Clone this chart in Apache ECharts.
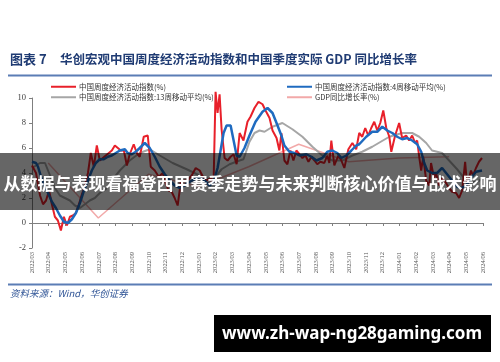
<!DOCTYPE html>
<html><head><meta charset="utf-8">
<script src="https://cdn.jsdelivr.net/npm/echarts@6/dist/echarts.min.js"></script>
<style>html,body{margin:0;padding:0;background:#fff}#c{width:500px;height:362px}</style>
</head><body><div id="c"></div>
<script>
const monthLabels = ['2022/03','2022/04','2022/05','2022/06','2022/07','2022/08','2022/09','2022/10','2022/11','2022/12','2023/01','2023/02','2023/03','2023/04','2023/05','2023/06','2023/07','2023/08','2023/09','2023/10','2023/11','2023/12','2024/01','2024/02','2024/03','2024/04','2024/05','2024/06'];
const yTicks = [-2, 0, 2, 4, 6, 8, 10];
const seriesNames = ['中国周度经济活动指数(%)','中国周度经济活动指数:13周移动平均(%)','中国周度经济活动指数:4周移动平均(%)','GDP同比增长率(%)'];
// [month index since 2022/03, value]
const weeklyIndex = [[0.00,4.6],[0.24,4.0],[0.48,2.2],[0.66,1.5],[0.84,1.8],[1.02,2.6],[1.19,1.5],[1.37,0.5],[1.55,0.2],[1.73,-0.6],[1.91,0.5],[2.09,-0.2],[2.27,0.5],[2.45,0.6],[2.63,0.8],[2.81,1.5],[2.99,2.3],[3.17,3.0],[3.35,4.0],[3.52,5.6],[3.70,4.5],[3.88,6.2],[4.06,5.0],[4.24,5.2],[4.42,5.4],[4.60,5.6],[4.78,5.8],[4.96,6.2],[5.14,6.0],[5.32,5.8],[5.50,5.8],[5.68,4.6],[5.85,5.5],[6.09,6.3],[6.27,5.6],[6.45,5.3],[6.69,6.9],[6.93,7.0],[7.11,4.5],[7.35,4.2],[7.59,3.7],[7.83,4.0],[8.00,3.2],[8.18,2.6],[8.36,2.5],[8.54,2.0],[8.72,1.4],[8.90,3.2],[9.08,3.4],[9.32,3.4],[9.56,3.8],[9.80,4.4],[10.04,4.2],[10.27,3.6],[10.45,3.4],[10.69,3.6],[10.87,3.2],[10.99,10.5],[11.11,8.8],[11.23,10.3],[11.35,7.5],[11.53,5.2],[11.71,5.0],[11.89,5.3],[12.07,5.5],[12.25,4.7],[12.43,7.2],[12.66,6.6],[12.90,8.1],[13.08,8.5],[13.32,9.2],[13.56,9.7],[13.80,9.5],[13.98,9.0],[14.22,8.4],[14.40,7.4],[14.64,6.8],[14.81,5.8],[14.93,7.2],[15.11,5.0],[15.29,4.7],[15.47,5.8],[15.65,5.0],[15.83,5.8],[16.01,5.5],[16.19,5.2],[16.37,5.4],[16.55,4.9],[16.73,5.3],[16.91,5.0],[17.08,4.7],[17.26,4.9],[17.50,4.8],[17.68,5.4],[17.80,4.8],[17.92,6.6],[18.10,4.6],[18.34,5.4],[18.52,5.0],[18.70,4.4],[18.94,5.9],[19.18,6.4],[19.41,5.9],[19.59,7.2],[19.77,6.9],[19.95,7.6],[20.13,7.0],[20.31,7.6],[20.49,8.1],[20.67,7.4],[20.85,8.0],[21.03,9.0],[21.21,7.6],[21.39,6.9],[21.51,5.7],[21.74,7.0],[21.98,8.0],[22.16,6.8],[22.40,7.0],[22.58,6.6],[22.76,7.0],[22.94,6.4],[23.06,6.6],[23.18,5.3],[23.30,4.2],[23.42,5.3],[23.60,3.4],[23.78,3.0],[23.89,4.8],[24.07,3.6],[24.19,4.0],[24.37,3.0],[24.55,3.6],[24.79,3.2],[24.97,2.8],[25.15,2.5],[25.39,2.4],[25.57,2.0],[25.75,2.6],[25.93,4.9],[26.05,3.0],[26.28,4.2],[26.40,3.8],[26.58,4.4],[26.76,4.9],[26.94,5.2]];
const ma4 = [[0.00,4.9],[0.24,4.8],[0.36,4.5],[0.54,3.7],[0.72,3.0],[0.96,2.4],[1.19,1.7],[1.43,1.2],[1.67,0.6],[1.91,0.1],[2.15,0.0],[2.39,0.3],[2.63,0.8],[2.87,1.6],[3.11,2.6],[3.35,3.4],[3.58,4.2],[3.82,4.8],[4.06,5.1],[4.30,5.1],[4.54,5.3],[4.78,5.4],[5.02,5.6],[5.26,5.8],[5.56,5.9],[5.73,5.6],[5.97,5.5],[6.21,5.7],[6.45,6.0],[6.75,6.4],[7.05,6.0],[7.35,5.3],[7.65,4.5],[7.95,3.9],[8.24,3.4],[8.54,3.0],[8.84,2.8],[9.14,3.0],[9.44,3.3],[9.74,3.5],[10.04,3.7],[10.33,3.4],[10.63,3.0],[10.87,3.3],[11.11,4.4],[11.29,5.8],[11.47,7.2],[11.65,7.8],[11.89,7.8],[12.07,6.6],[12.25,5.4],[12.43,5.3],[12.72,6.0],[13.02,7.0],[13.38,8.1],[13.80,8.9],[14.10,9.2],[14.40,8.8],[14.64,8.0],[14.93,7.0],[15.11,6.2],[15.41,5.7],[15.71,5.6],[16.01,5.4],[16.43,5.5],[16.73,5.3],[17.03,5.0],[17.38,5.2],[17.68,5.7],[17.98,5.8],[18.28,5.6],[18.52,5.2],[18.82,5.4],[19.12,5.8],[19.41,6.2],[19.59,6.3],[20.01,6.9],[20.37,7.3],[20.67,7.3],[20.97,7.7],[21.27,7.4],[21.57,7.2],[21.86,6.9],[22.16,6.7],[22.46,6.8],[22.76,6.6],[23.06,6.3],[23.30,5.7],[23.48,4.8],[23.66,4.2],[23.95,4.0],[24.25,4.0],[24.55,4.4],[24.85,3.9],[25.15,3.4],[25.45,2.9],[25.69,2.8],[25.99,3.0],[26.28,3.6],[26.58,4.1],[26.94,4.2]];
const ma13 = [[0.00,4.4],[0.24,4.6],[0.48,4.8],[0.78,4.8],[1.08,3.8],[1.37,2.8],[1.67,2.2],[1.97,2.0],[2.27,1.8],[2.57,1.4],[2.87,1.2],[3.17,1.5],[3.46,1.8],[3.76,2.0],[4.06,2.4],[4.42,2.7],[4.78,3.4],[5.26,4.2],[5.85,5.0],[6.45,5.6],[7.05,5.9],[7.65,5.4],[8.42,4.8],[9.26,4.3],[10.04,3.8],[10.63,3.5],[10.99,3.7],[11.35,4.3],[11.83,4.7],[12.43,5.0],[12.66,5.1],[13.02,6.5],[13.32,7.2],[13.62,7.4],[13.92,7.3],[14.40,7.7],[14.99,8.0],[15.59,7.5],[16.19,6.9],[16.79,6.1],[17.38,5.4],[17.98,5.0],[18.58,5.0],[19.18,5.4],[19.77,5.7],[20.37,6.1],[21.39,6.9],[22.16,7.2],[22.76,7.2],[23.18,6.9],[23.60,6.4],[23.95,5.8],[24.55,5.6],[24.97,5.0],[25.45,4.3],[25.87,3.6],[26.28,3.3],[26.64,3.3],[26.94,3.5]];
const gdpYoY = [[0.97,4.8],[3.97,0.4],[6.97,3.9],[9.97,2.9],[12.97,4.5],[15.97,6.3],[18.97,4.9],[21.97,5.2],[24.97,5.3]];

const chart = echarts.init(document.getElementById('c'), null, {renderer:'canvas'});
const serif = "'Liberation Serif','Noto Sans CJK SC',serif";
const cjk = "'Noto Sans CJK SC','Liberation Serif',serif";
const colors = ['#E8202A','#A6A6A6','#1F6BC0','#F2A9A9'];
const lineSeries = (name, data, color, width, z) => ({
  name, type:'line', data, xAxisIndex:0, yAxisIndex:0, symbol:'none', clip:false,
  lineStyle:{color, width}, itemStyle:{color}, z, animation:false
});
chart.setOption({
  animation:false,
  backgroundColor:'#fff',
  grid:{left:32, right:17, top:98, bottom:114},
  legend:[
    {data:[seriesNames[0], seriesNames[1]], orient:'vertical', left:46, top:78, itemWidth:25, itemHeight:2, itemGap:3, icon:'rect',
     textStyle:{fontSize:7.5, fontFamily:cjk, color:'#333', padding:[0,0,0,-2]}},
    {data:[seriesNames[2], seriesNames[3]], orient:'vertical', left:282, top:78, itemWidth:25, itemHeight:2, itemGap:3, icon:'rect',
     textStyle:{fontSize:7.5, fontFamily:cjk, color:'#333', padding:[0,0,0,-2]}}
  ],
  xAxis:[
    {type:'value', min:0, max:monthLabels.length-1, interval:1, position:'bottom',
     axisLine:{show:false, onZero:false}, axisTick:{show:false}, splitLine:{show:false},
     axisLabel:{rotate:90, fontSize:6.5, fontFamily:serif, color:'#555', margin:4,
       formatter:v=>monthLabels[Math.round(v)]}},
    {type:'value', min:0, max:monthLabels.length-1, interval:1, position:'top',
     axisLine:{show:true, onZero:true, lineStyle:{color:'#7f7f7f', width:1}},
     axisTick:{show:true, inside:true, length:3, lineStyle:{color:'#7f7f7f'}},
     axisLabel:{show:false}, splitLine:{show:false}}
  ],
  yAxis:{type:'value', min:yTicks[0], max:yTicks[yTicks.length-1], interval:2,
    axisLine:{show:true, lineStyle:{color:'#7f7f7f'}},
    axisTick:{show:true, length:3, lineStyle:{color:'#7f7f7f'}},
    splitLine:{show:false},
    axisLabel:{fontSize:8.5, fontFamily:serif, color:'#404040', margin:6}},
  series:[
    lineSeries(seriesNames[0], weeklyIndex, colors[0], 2, 3),
    lineSeries(seriesNames[1], ma13, colors[1], 2, 2),
    lineSeries(seriesNames[2], ma4, colors[2], 2.5, 4),
    lineSeries(seriesNames[3], gdpYoY, colors[3], 1.5, 1)
  ],
  graphic:[
    {type:'text', left:10, top:53, style:{text:'图表 7', font:"bold 13px "+cjk, fill:'#1F3B73'}},
    {type:'text', left:60, top:53, style:{text:'华创宏观中国周度经济活动指数和中国季度实际 GDP 同比增长率', font:"bold 12.5px "+cjk, fill:'#1F3B73'}},
    {type:'rect', shape:{x:8, y:74.5, width:484, height:2}, style:{fill:'#5B7DB5'}},
    {type:'rect', shape:{x:8, y:283.5, width:484, height:2}, style:{fill:'#5B7DB5'}},
    {type:'text', left:10, top:289, style:{text:'资料来源：Wind，华创证券', font:"italic 9.5px "+cjk, fill:'#2F5496'}},
    {type:'rect', z:100, shape:{x:0, y:153, width:500, height:57}, style:{fill:'rgba(0,0,0,0.6)'}},
    {type:'text', z:101, x:250, y:184, style:{text:'从数据与表现看福登西甲赛季走势与未来判断核心价值与战术影响', font:"bold 17px "+cjk, fill:'#fff', textAlign:'center', textVerticalAlign:'middle'}},
    {type:'rect', z:100, shape:{x:214, y:315, width:277, height:37}, style:{fill:'#000'}},
    {type:'text', z:101, x:352, y:334, style:{text:'www.zh-wap-ng28gaming.com', font:"bold 17px 'Noto Sans','Open Sans',sans-serif", fill:'#fff', textAlign:'center', textVerticalAlign:'middle'}}
  ]
});
</script></body></html>
